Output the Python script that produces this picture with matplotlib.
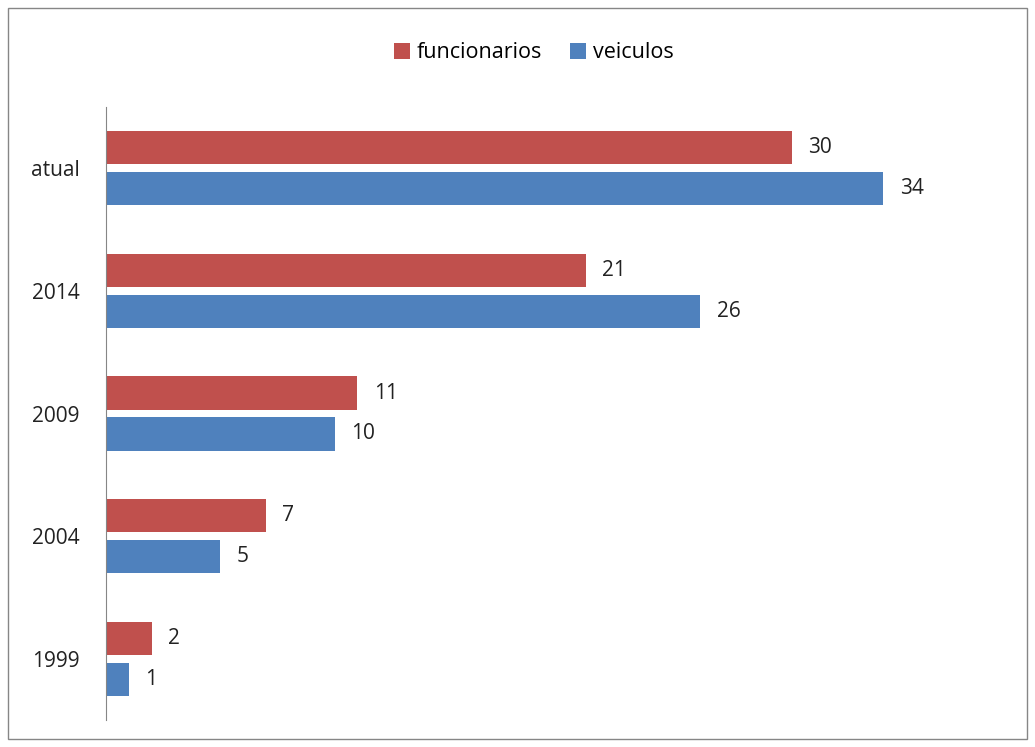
import matplotlib.pyplot as plt
from matplotlib.patches import Rectangle
import numpy as np

categories = ["1999", "2004", "2009", "2014", "atual"]
funcionarios = [2, 7, 11, 21, 30]
veiculos = [1, 5, 10, 26, 34]

plt.rcParams["font.family"] = ["Open Sans", "DejaVu Sans"]

fig = plt.figure(figsize=(10.35, 7.47), dpi=100)
ax = fig.add_axes([106 / 1035, 1 - 720 / 747, 880 / 1035, 613 / 747])

y = np.arange(len(categories))
h = 0.27
off = 0.167

red = "#C0504D"
blue = "#4F81BD"

b1 = ax.barh(y + off, funcionarios, height=h, color=red, label="funcionarios")
b2 = ax.barh(y - off, veiculos, height=h, color=blue, label="veiculos")

for bars, vals in ((b1, funcionarios), (b2, veiculos)):
    for bar, v in zip(bars, vals):
        ax.text(bar.get_width() + 0.72, bar.get_y() + bar.get_height() / 2, str(v),
                va="center", ha="left", fontsize=15, color="#222222")

ax.set_xlim(0, 38.5)
ax.set_ylim(-0.5, 4.5)
ax.set_yticks(y)
ax.set_yticklabels(categories, fontsize=15, color="#222222")
ax.tick_params(axis="y", length=0, pad=19)
ax.set_xticks([])
for s in ("top", "right", "bottom"):
    ax.spines[s].set_visible(False)
ax.spines["left"].set_color("#868686")

fig.legend(handles=[b1, b2], loc="center", bbox_to_anchor=(534 / 1035, 1 - 53 / 747),
           ncol=2, frameon=False, fontsize=15.5, handlelength=0.75, handleheight=0.75,
           handletextpad=0.3, columnspacing=1.3)

fig.patches.append(Rectangle((8 / 1035, 8 / 747), 1019 / 1035, 731 / 747,
                             transform=fig.transFigure, fill=False,
                             edgecolor="#868686", linewidth=1))

fig.savefig("out.png", dpi=100)
